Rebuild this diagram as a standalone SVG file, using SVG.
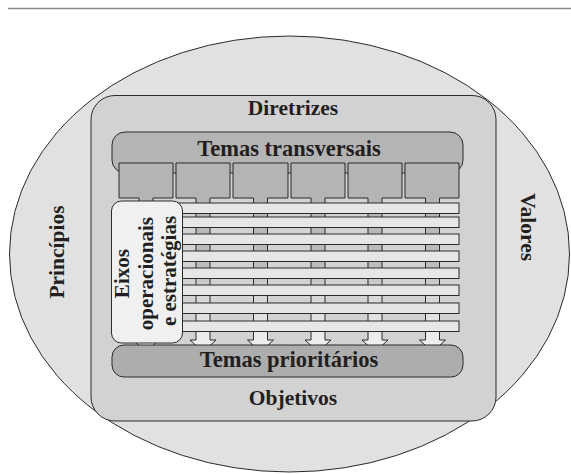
<svg xmlns="http://www.w3.org/2000/svg" width="571" height="474" viewBox="0 0 571 474">
<defs>
<style>
.ln{stroke:#2b2b2b;stroke-width:1}
.lbl{font-family:"Liberation Serif","DejaVu Serif",serif;font-weight:bold;fill:#231f20}
.sq{fill:#b4b4b4;stroke:#2b2b2b;stroke-width:1}
.bar{fill:#e6e6e6;stroke:#2b2b2b;stroke-width:1}
.stem{fill:url(#stemGrad);stroke:#2b2b2b;stroke-width:1}
</style>
<linearGradient id="stemGrad" gradientUnits="userSpaceOnUse" x1="0" y1="198" x2="0" y2="345">
<stop offset="0" stop-color="#b4b4b4"/>
<stop offset="0.45" stop-color="#bcbcbc"/>
<stop offset="0.75" stop-color="#dedede"/>
<stop offset="1" stop-color="#f0f0f0"/>
</linearGradient>
</defs>
<line x1="8" y1="8.5" x2="571" y2="8.5" stroke="#8a8a8a" stroke-width="1.5"/>
<g id="principios-valores">
<ellipse cx="289.5" cy="254" rx="280" ry="218" fill="#e1e1e1" class="ln"/>
<text class="lbl" font-size="21.5" transform="translate(64,252) rotate(-90)" text-anchor="middle">Princípios</text>
<text class="lbl" font-size="21.5" transform="translate(521,227) rotate(90)" text-anchor="middle">Valores</text>
</g>
<g id="diretrizes-objetivos">
<rect x="91" y="95.5" width="405" height="325.5" rx="24" fill="#d2d2d2" class="ln"/>
<text class="lbl" font-size="21.5" x="293" y="115" text-anchor="middle">Diretrizes</text>
<text class="lbl" font-size="21.5" x="293" y="405" text-anchor="middle">Objetivos</text>
</g>
<g id="temas-transversais">
<rect x="112" y="132" width="351" height="41" rx="13" fill="#b4b4b4" class="ln"/>
<text class="lbl" font-size="22.5" x="289" y="155.5" text-anchor="middle">Temas transversais</text>
<path class="sq" d="M119 198V163H173V198H153M139 198H119"/>
<path class="sq" d="M176 198V163H230V198H210M196 198H176"/>
<path class="sq" d="M233 198V163H288V198H267.5M253.5 198H233"/>
<path class="sq" d="M291 198V163H345V198H325M311 198H291"/>
<path class="sq" d="M348 198V163H402V198H382M368 198H348"/>
<path class="sq" d="M405 198V163H459V198H439.5M425.5 198H405"/>
</g>
<g id="connectors">
<path class="stem" d="M139 198V340H133L146 352L159 340H153V198"/>
<path class="stem" d="M196 198V340H190L203 352L216 340H210V198"/>
<path class="stem" d="M253.5 198V340H247.5L260.5 352L273.5 340H267.5V198"/>
<path class="stem" d="M311 198V340H305L318 352L331 340H325V198"/>
<path class="stem" d="M368 198V340H362L375 352L388 340H382V198"/>
<path class="stem" d="M425.5 198V340H419.5L432.5 352L445.5 340H439.5V198"/>
</g>
<g id="eixos-faixas">
<rect class="bar" x="165" y="203" width="294" height="10.5"/>
<rect class="bar" x="165" y="217" width="294" height="10.5"/>
<rect class="bar" x="165" y="234" width="294" height="10.5"/>
<rect class="bar" x="165" y="251" width="294" height="10.5"/>
<rect class="bar" x="165" y="268" width="294" height="10.5"/>
<rect class="bar" x="165" y="285" width="294" height="10.5"/>
<rect class="bar" x="165" y="303" width="294" height="10.5"/>
<rect class="bar" x="165" y="321" width="294" height="10.5"/>
</g>
<g id="eixos-estrategias">
<rect x="111.5" y="201" width="71" height="142" rx="10" fill="#f0f0f0" class="ln"/>
<text class="lbl" font-size="21" transform="rotate(-90)" text-anchor="middle">
<tspan x="-271" y="129">Eixos</tspan>
<tspan x="-271" y="152.5">operacionais</tspan>
<tspan x="-271" y="175.5">e estratégias</tspan>
</text>
</g>
<g id="temas-prioritarios">
<rect x="112" y="345" width="351" height="32" rx="12" fill="#adadad" class="ln"/>
<text class="lbl" font-size="22.5" x="289" y="366.5" text-anchor="middle">Temas prioritários</text>
</g>
</svg>
